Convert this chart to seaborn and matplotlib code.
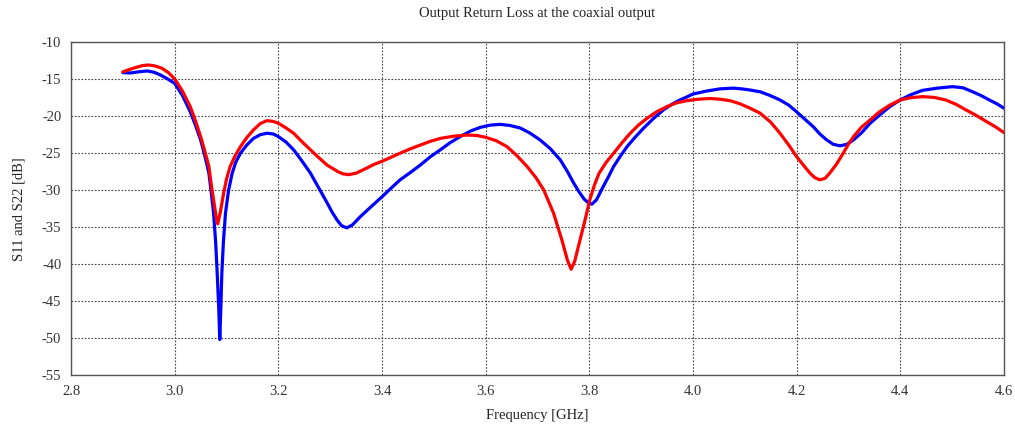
import matplotlib
matplotlib.use("Agg")
import matplotlib.pyplot as plt
import pandas as pd
import seaborn as sns

# values
red_freq = [2.900, 2.912, 2.925, 2.938, 2.950, 2.962, 2.975, 2.988, 3.000, 3.015,
            3.030, 3.040, 3.050, 3.058, 3.066, 3.070, 3.075, 3.080, 3.083, 3.088,
            3.0945, 3.100, 3.107, 3.117, 3.127, 3.139, 3.152, 3.165, 3.178, 3.190,
            3.200, 3.213, 3.2295, 3.245, 3.262, 3.278, 3.294, 3.315, 3.325, 3.336,
            3.350, 3.371, 3.385, 3.400, 3.435, 3.455, 3.474, 3.493, 3.5125, 3.538,
            3.564, 3.583, 3.600, 3.620, 3.641, 3.660, 3.680, 3.697, 3.712, 3.731,
            3.747, 3.758, 3.765, 3.772, 3.779, 3.792, 3.801, 3.810, 3.819, 3.833,
            3.847, 3.863, 3.879, 3.895, 3.911, 3.930, 3.950, 3.968, 3.988, 4.010,
            4.033, 4.053, 4.072, 4.090, 4.110, 4.130, 4.150, 4.168, 4.185, 4.200,
            4.213, 4.226, 4.235, 4.245, 4.255, 4.264, 4.277, 4.290, 4.300, 4.310,
            4.325, 4.342, 4.360, 4.380, 4.400, 4.420, 4.443, 4.465, 4.488, 4.508,
            4.527, 4.547, 4.566, 4.583, 4.600]
red_db = [-14.0, -13.7, -13.4, -13.15, -13.07, -13.2, -13.5, -14.1, -14.96, -16.6,
          -18.7, -20.6, -22.75, -24.7, -26.8, -29.0, -31.3, -33.6, -34.55, -33.0,
          -30.4, -28.5, -26.8, -25.3, -24.1, -22.9, -21.85, -21.0, -20.6, -20.7,
          -20.95, -21.5, -22.3, -23.4, -24.55, -25.6, -26.6, -27.5, -27.8, -27.9,
          -27.7, -27.0, -26.5, -26.1, -25.0, -24.4, -23.9, -23.4, -23.0, -22.7,
          -22.55, -22.6, -22.85, -23.3, -24.1, -25.3, -26.8, -28.3, -29.95, -33.1,
          -36.7, -39.5, -40.7, -39.6, -37.6, -34.0, -31.3, -29.3, -27.7, -26.2,
          -25.0, -23.6, -22.3, -21.2, -20.3, -19.4, -18.7, -18.2, -17.9, -17.7,
          -17.6, -17.7, -17.9, -18.3, -18.9, -19.6, -20.8, -22.3, -23.9, -25.45,
          -26.6, -27.7, -28.3, -28.6, -28.4, -27.7, -26.5, -25.0, -23.8, -22.75,
          -21.5, -20.5, -19.4, -18.5, -17.8, -17.5, -17.35, -17.45, -17.8, -18.4,
          -19.15, -19.9, -20.7, -21.4, -22.2]

blue_freq = [2.900, 2.915, 2.930, 2.947, 2.960, 2.972, 2.985, 3.000, 3.015, 3.030,
             3.040, 3.050, 3.058, 3.066, 3.070, 3.075, 3.079, 3.082, 3.085, 3.087,
             3.089, 3.091, 3.094, 3.098, 3.104, 3.111, 3.118, 3.127, 3.139, 3.152,
             3.165, 3.178, 3.190, 3.200, 3.215, 3.2295, 3.245, 3.262, 3.278, 3.294,
             3.304, 3.313, 3.322, 3.332, 3.343, 3.358, 3.378, 3.400, 3.418, 3.435,
             3.455, 3.474, 3.493, 3.5125, 3.531, 3.551, 3.571, 3.590, 3.609, 3.628,
             3.647, 3.667, 3.686, 3.705, 3.725, 3.744, 3.758, 3.770, 3.780, 3.790,
             3.798, 3.805, 3.814, 3.827, 3.837, 3.847, 3.860, 3.873, 3.889, 3.905,
             3.924, 3.943, 3.959, 3.975, 3.988, 4.000, 4.026, 4.052, 4.078, 4.094,
             4.110, 4.130, 4.149, 4.168, 4.185, 4.200, 4.216, 4.232, 4.245, 4.258,
             4.271, 4.284, 4.297, 4.310, 4.326, 4.342, 4.361, 4.380, 4.400, 4.420,
             4.443, 4.472, 4.501, 4.521, 4.540, 4.556, 4.572, 4.586, 4.600]
blue_db = [-14.1, -14.15, -14.0, -13.88, -14.05, -14.4, -14.9, -15.55, -17.2, -19.4,
           -21.2, -23.2, -25.3, -27.7, -30.0, -33.1, -37.0, -41.2, -46.0, -50.2,
           -46.0, -41.2, -37.0, -33.1, -30.0, -27.7, -26.2, -25.0, -23.9, -23.0,
           -22.5, -22.3, -22.4, -22.75, -23.5, -24.55, -26.0, -27.7, -29.7, -31.7,
           -33.0, -34.0, -34.8, -35.1, -34.7, -33.6, -32.3, -30.9, -29.7, -28.6,
           -27.6, -26.6, -25.5, -24.55, -23.6, -22.75, -22.0, -21.5, -21.2, -21.1,
           -21.25, -21.6, -22.3, -23.2, -24.4, -25.9, -27.5, -29.05, -30.2, -31.2,
           -31.7, -31.9, -31.3, -29.5, -28.2, -26.8, -25.4, -24.1, -22.8, -21.6,
           -20.3, -19.15, -18.4, -17.8, -17.4, -17.0, -16.6, -16.3, -16.2, -16.3,
           -16.45, -16.7, -17.2, -17.8, -18.5, -19.4, -20.4, -21.4, -22.4, -23.2,
           -23.8, -24.0, -23.8, -23.2, -22.2, -20.95, -19.8, -18.7, -17.8, -17.1,
           -16.5, -16.2, -16.0, -16.15, -16.7, -17.2, -17.8, -18.3, -18.9]

x_ticks = [2.8, 3.0, 3.2, 3.4, 3.6, 3.8, 4.0, 4.2, 4.4, 4.6]
y_ticks = [-55, -50, -45, -40, -35, -30, -25, -20, -15, -10]

df = pd.concat([
    pd.DataFrame({"freq": blue_freq, "db": blue_db, "trace": "blue"}),
    pd.DataFrame({"freq": red_freq, "db": red_db, "trace": "red"}),
])

sns.set_style("white")
plt.rcParams["font.family"] = ["Liberation Serif", "DejaVu Serif"]

fig = plt.figure(figsize=(10.15, 4.25), dpi=100)
ax = fig.add_axes([0.070, 0.1176, 0.919, 0.7829])

sns.lineplot(data=df, x="freq", y="db", hue="trace", units="trace",
             estimator=None, sort=False, palette={"blue": "#0000ff", "red": "#ff0000"},
             linewidth=2.3, legend=False, ax=ax)

ax.set_xlim(2.8, 4.6)
ax.set_ylim(-55, -10)
ax.set_xticks(x_ticks)
ax.set_xticklabels([f"{t:.1f}" for t in x_ticks])
ax.set_yticks(y_ticks)
ax.set_yticklabels([str(t) for t in y_ticks])
ax.grid(True, color="#444444", linestyle=(0, (1.5, 1.5)), linewidth=0.8)
ax.set_axisbelow(True)

for s in ax.spines.values():
    s.set_color("#555555")
    s.set_linewidth(1.0)
ax.tick_params(axis="both", direction="out", length=3, width=1, color="#555555",
               labelsize=10.5, labelcolor="#333333", pad=4)

ax.set_xlabel("Frequency [GHz]", fontsize=10.5, color="#222222", labelpad=8)
ax.set_ylabel("S11 and S22 [dB]", fontsize=10.5, color="#222222", labelpad=12)
ax.set_title("Output Return Loss at the coaxial output", fontsize=10.5,
             color="#222222", pad=18)

fig.savefig("out.png", dpi=100)
